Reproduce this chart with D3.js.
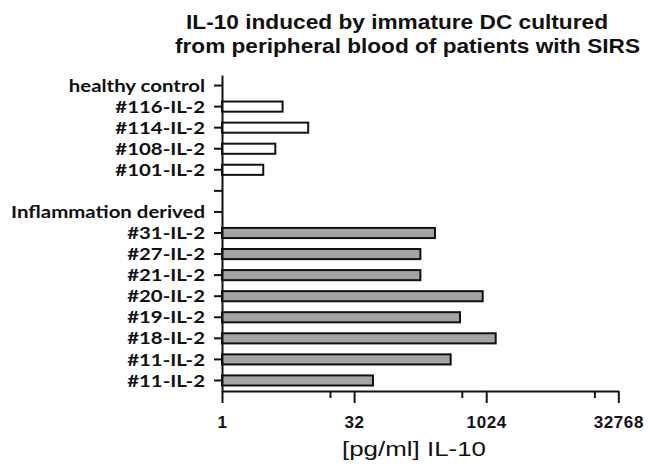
<!DOCTYPE html>
<html>
<head>
<meta charset="utf-8">
<script src="https://cdn.jsdelivr.net/npm/d3@7.9.0/dist/d3.min.js"></script>
<style>
  html, body { margin: 0; padding: 0; background: #fff; }
  svg { display: block; }
  .title { font-family: "Liberation Sans", Arial, sans-serif; font-weight: bold; font-size: 20px; fill: #111; }
  .y-axis text { font-family: Lato, "Open Sans", sans-serif; font-weight: 700; font-size: 17px; fill: #111; }
  .x-axis text { font-family: "Liberation Sans", Arial, sans-serif; font-weight: bold; font-size: 17px; letter-spacing: 0.6px; fill: #111; }
  .axis-title { font-family: "Liberation Sans", Arial, sans-serif; font-size: 21px; fill: #111; }
  .domain, .tick line { stroke: #111; stroke-width: 2px; }
</style>
</head>
<body>
<div id="chart"></div>
<script>
// chart values
const titleLines = [
  "IL-10 induced by immature DC cultured",
  "from peripheral blood of patients with SIRS"
];
const healthyLabels = ["#116-IL-2", "#114-IL-2", "#108-IL-2", "#101-IL-2"];
const healthyValues = [4.9, 9.6, 4.05, 2.95];
const inflamLabels = ["#31-IL-2", "#27-IL-2", "#21-IL-2", "#20-IL-2", "#19-IL-2", "#18-IL-2", "#11-IL-2", "#11-IL-2"];
const inflamValues = [267, 182, 182, 934, 515, 1314, 403, 52.5];
const rowLabels = ["healthy control", ...healthyLabels, "", "Inflammation derived", ...inflamLabels];
const xTicks = [1, 32, 1024, 32768];
const xMinorTicks = [17, 540, 17500];
const xLabel = "[pg/ml] IL-10";

const width = 650;
const height = 471;
const margin = { top: 75, right: 32, bottom: 80, left: 222 };

const svg = d3.select('#chart')
  .append('svg')
  .attr('width', width)
  .attr('height', height);

// title, stretched a little like the original
svg.append('text').attr('class', 'title')
  .attr('x', 186).attr('y', 29)
  .attr('textLength', 422).attr('lengthAdjust', 'spacingAndGlyphs')
  .text(titleLines[0]);
svg.append('text').attr('class', 'title')
  .attr('x', 175).attr('y', 53)
  .attr('textLength', 465).attr('lengthAdjust', 'spacingAndGlyphs')
  .text(titleLines[1]);

const xScale = d3.scaleLog()
  .base(2)
  .domain([1, 32768])
  .range([margin.left, width - margin.right + 0.3]);

const yScale = d3.scaleBand()
  .domain(d3.range(rowLabels.length))
  .range([margin.top, height - margin.bottom])
  .paddingInner(0.52)
  .paddingOuter(0.26);

// rows: healthy ones start at index 1, inflammation ones at index 7
const bars = [
  ...healthyValues.map((v, i) => ({ row: 1 + i, value: v, fill: '#ffffff' })),
  ...inflamValues.map((v, i) => ({ row: 7 + i, value: v, fill: '#a4a4a4' }))
];

svg.append('g')
  .attr('class', 'bars')
  .selectAll('rect')
  .data(bars)
  .join('rect')
  .attr('x', xScale(1))
  .attr('y', d => yScale(d.row))
  .attr('width', d => xScale(d.value) - xScale(1))
  .attr('height', yScale.bandwidth())
  .attr('fill', d => d.fill)
  .attr('stroke', '#111')
  .attr('stroke-width', 2);

// minor ticks on x
svg.append('g')
  .attr('class', 'x-minor')
  .attr('transform', `translate(0, ${height - margin.bottom})`)
  .call(d3.axisBottom(xScale).tickValues(xMinorTicks).tickSize(7).tickSizeOuter(0).tickFormat(''))
  .call(g => g.select('.domain').remove());

const xAxis = svg.append('g')
  .attr('class', 'x-axis')
  .attr('transform', `translate(0, ${height - margin.bottom})`)
  .call(d3.axisBottom(xScale).tickValues(xTicks).tickSize(12).tickSizeOuter(0).tickPadding(13).tickFormat(d3.format('d')));

const yAxis = svg.append('g')
  .attr('class', 'y-axis')
  .attr('transform', `translate(${margin.left}, 0)`)
  .call(d3.axisLeft(yScale).tickSize(8).tickSizeOuter(0).tickPadding(9).tickFormat(i => rowLabels[i]));

// the original labels are a bit wider than the font, stretch them
yAxis.selectAll('.tick text')
  .attr('dy', '0.36em')
  .each(function () {
    const w = this.getComputedTextLength();
    if (w > 0) {
      d3.select(this).attr('textLength', w * 1.2).attr('lengthAdjust', 'spacingAndGlyphs');
    }
  });

svg.append('text')
  .attr('class', 'axis-title')
  .attr('x', 342).attr('y', 456)
  .attr('textLength', 144).attr('lengthAdjust', 'spacingAndGlyphs')
  .text(xLabel);
</script>
</body>
</html>
